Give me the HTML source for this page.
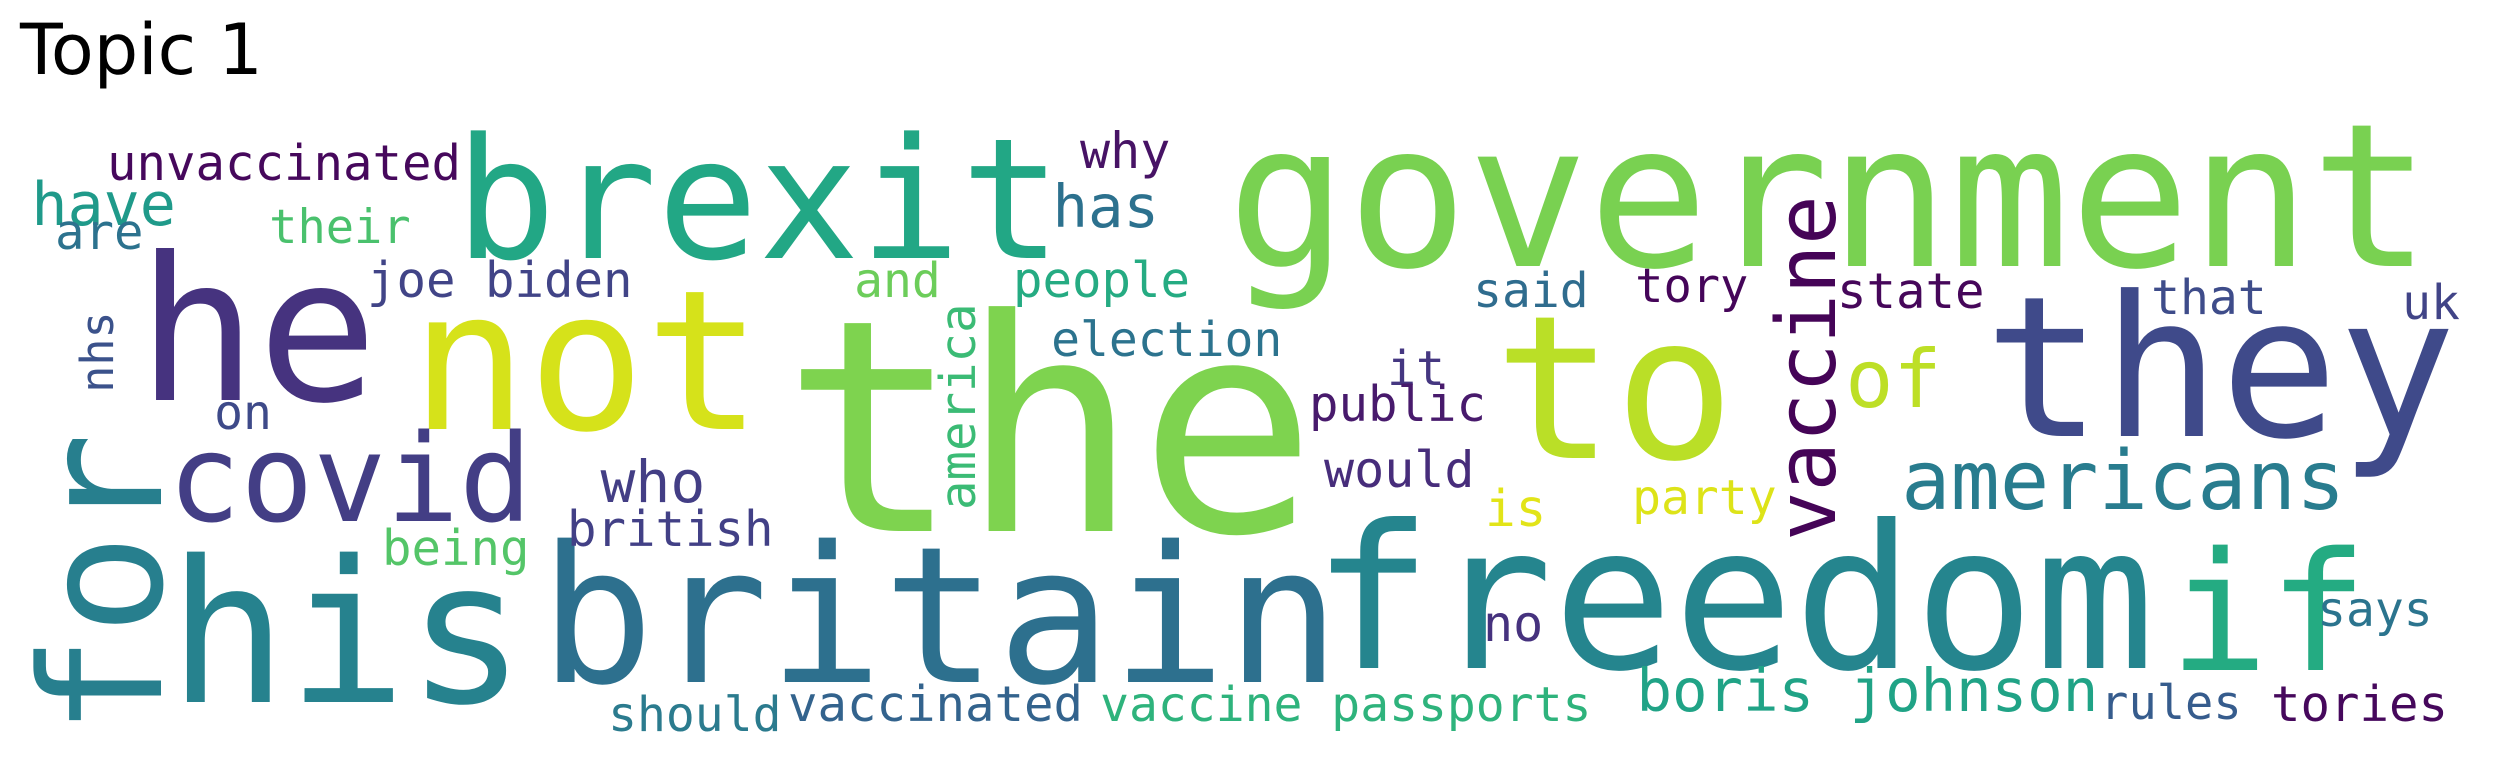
<!DOCTYPE html>
<html>
<head>
<meta charset="utf-8">
<style>
  html, body { margin: 0; padding: 0; background: #ffffff; }
  body { width: 2504px; height: 764px; overflow: hidden; }
  svg text { font-family: "DejaVu Sans Mono", "Liberation Mono", monospace; }
  #title { font-family: "DejaVu Sans", "Liberation Sans", sans-serif; }
</style>
</head>
<body>
<svg id="cloud" width="2504" height="764" viewBox="0 0 2504 764" xmlns="http://www.w3.org/2000/svg">
  <rect x="0" y="0" width="2504" height="764" fill="#ffffff"></rect>
  <text id="title" x="20" y="74" font-size="70" fill="#000000">Topic 1</text>
  <g id="words"></g>
</svg>
<script>
// word cloud data
const words = ["the","government","they","freedom","his","he","not","to","britain","brexit","if","for","covid","vaccine","americans","of","boris johnson","have","who","has","unvaccinated","are","their","joe biden","nhs","on","british","being","should","why","and","people","election","america","it","public","would","vaccinated","vaccine passports","is","no","said","tory","state","party","that","uk","says","rules","tories"];
const sizes = [296,200,196,200,198,200,195,200,190,168,165,168,121,82,82,80,59,60,58,59,49,49,47,49,45,48,49,49,48,50,48,49,48,49,48,49,50,49,48,51,50,48,47,49,48,48,48,48,47,49];
const colors = ["#7ed34f","#79d151","#3f4a8a","#25858e","#26828e","#46337f","#d6e21a","#badf27","#2d708e","#22a785","#24ab82","#277f8e","#433e85","#450457","#287c8e","#bddf26","#20a386","#1f9a8a","#433e85","#2c718e","#46085c","#2c728e","#4ac16d","#414487","#3b528b","#3e4a89","#424086","#54c568","#2b7b8e","#471365","#6ccd5a","#25ab82","#2c738e","#3bbb75","#453781","#481a6c","#472d7b","#33638d","#2eb37c","#e2e418","#46327e","#2f6c8e","#450559","#46075a","#dde318","#3e4c8a","#414487","#2b748e","#365c8d","#46085c"];
const posX = [800,1239,1996,1324,180,149,422,1506,551,465,2179,161,175,1835,1906,1850,1640,35,604,1056,110,58,272,370,113,217,570,385,611,1083,857,1016,1054,975,1390,1312,1327,791,1103,1488,1486,1476,1638,1840,1635,2154,2405,2320,2103,2274];
const posY = [531,266,436,668,702,400,429,458,682,258,670,726,521,536,509,407,711,225,502,227,180,249,243,297,390,429,546,565,731,168,297,297,356,507,385,421,487,721,721,526,641,307,302,308,514,314,319,626,719,721];
const rotated = [false,false,false,false,false,false,false,false,false,false,false,true,false,true,false,false,false,false,false,false,false,false,false,false,true,false,false,false,false,false,false,false,false,true,false,false,false,false,false,false,false,false,false,false,false,false,false,false,false,false];

const NS = "http://www.w3.org/2000/svg";
const g = document.getElementById("words");
for (let i = 0; i < words.length; i++) {
  const t = document.createElementNS(NS, "text");
  const em = sizes[i];
  const lsb = 0.06 * em;
  t.setAttribute("font-size", em);
  t.setAttribute("fill", colors[i]);
  if (rotated[i]) {
    t.setAttribute("x", 0);
    t.setAttribute("y", 0);
    t.setAttribute("transform", "translate(" + posX[i] + "," + (posY[i] + lsb) + ") rotate(-90)");
  } else {
    t.setAttribute("x", posX[i] - lsb);
    t.setAttribute("y", posY[i]);
  }
  t.textContent = words[i];
  
  
  g.appendChild(t);
}
</script>
</body>
</html>
